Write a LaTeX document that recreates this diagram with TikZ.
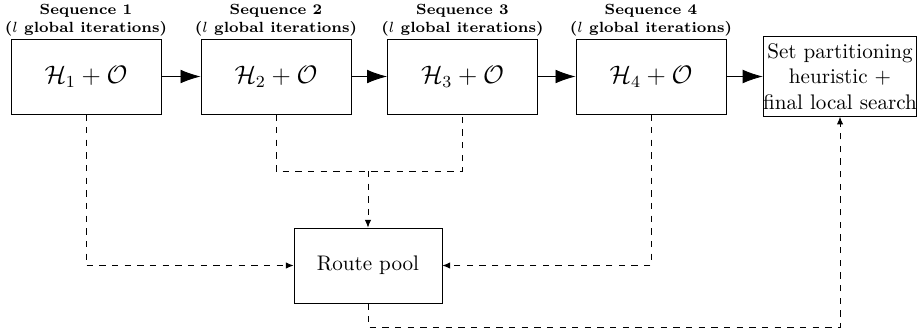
\documentclass[tikz,border=0pt]{standalone}
\usepackage{amsmath}
\usetikzlibrary {arrows.meta, positioning}

\begin{document}
\begin{tikzpicture}[
    seqbox/.style = {rectangle, draw, minimum width = 2.5cm, minimum height = 1.25cm, font = \large},
    seqlabel/.style = {align = center, font = \scriptsize\bfseries, inner sep = 0pt},
    flow/.style = {-{Latex[length = 9.5pt, width = 6.5pt]}},
    pool/.style = {dashed, -{Latex[length = 3.6pt, width = 3pt]}},
]
    \useasboundingbox (0, 0) rectangle (15.333, -5.583);

    \node[seqbox] (S1) at (1.433, -1.275)  {$\mathcal{H}_1 + \mathcal{O}$};
    \node[seqbox] (S2) at (4.600, -1.275)  {$\mathcal{H}_2 + \mathcal{O}$};
    \node[seqbox] (S3) at (7.708, -1.275)  {$\mathcal{H}_3 + \mathcal{O}$};
    \node[seqbox] (S4) at (10.850, -1.275) {$\mathcal{H}_4 + \mathcal{O}$};
    \node[rectangle, draw, align = center, inner xsep = 0pt, minimum height = 1.25cm] (SP) at (14.0, -1.275)
        {Set partitioning\\heuristic +\\final local search};
    \node[rectangle, draw, minimum width = 2.467cm, minimum height = 1.25cm] (RP) at (6.133, -4.425) {Route pool};

    \node[seqlabel, above = 0.03cm of S1] (L1) {Sequence 1\\[0.5pt]($l$ global iterations)};
    \node[seqlabel, above = 0.03cm of S2] (L2) {Sequence 2\\[0.5pt]($l$ global iterations)};
    \node[seqlabel, above = 0.03cm of S3] (L3) {Sequence 3\\[0.5pt]($l$ global iterations)};
    \node[seqlabel, above = 0.03cm of S4] (L4) {Sequence 4\\[0.5pt]($l$ global iterations)};

    \coordinate (J) at (6.133, -2.85);
    \coordinate (B) at (6.133, -5.45);

    \path
        (S1) edge [flow] (S2)
        (S2) edge [flow] (S3)
        (S3) edge [flow] (S4)
        (S4) edge [flow] (SP)
    ;

    \draw[dashed] (S2.south) |- (J) -| (S3.south);
    \draw[pool] (J) -- (RP.north);
    \draw[pool] (S1.south) |- (RP.west);
    \draw[pool] (S4.south) |- (RP.east);
    \draw[pool] (RP.south) |- (B -| SP.south) -- (SP.south);
\end{tikzpicture}
\end{document}
